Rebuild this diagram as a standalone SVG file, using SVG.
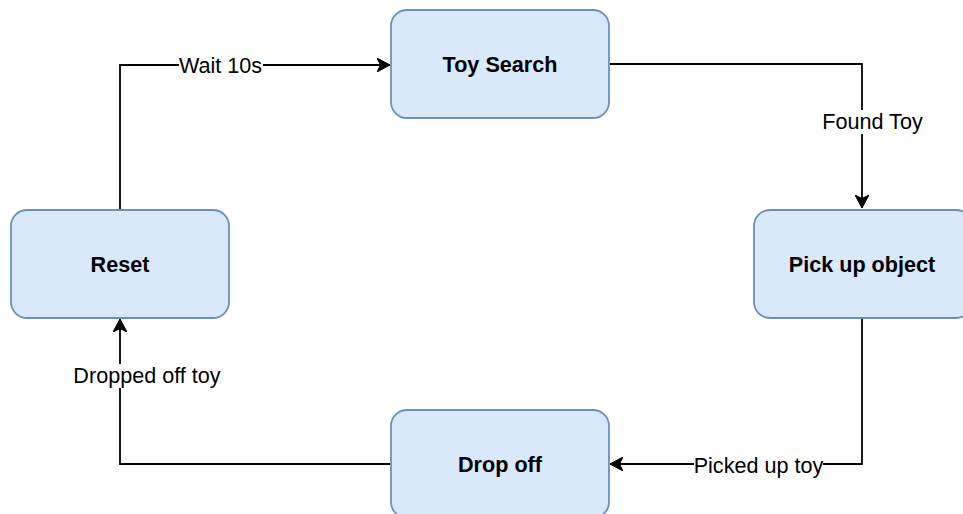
<svg xmlns="http://www.w3.org/2000/svg" width="963" height="514" viewBox="0 0 963 514">
  <style>
    .state rect { fill: #dae8fc; stroke: #6c8ebf; stroke-width: 1.8; }
    .state text { font-family: "Liberation Sans", Arial, Helvetica, sans-serif; font-size: 21.6px; font-weight: bold; fill: #000; text-anchor: middle; }
    .edge { fill: none; stroke: #000; stroke-width: 1.8; }
    .lbl { font-family: "Liberation Sans", Arial, Helvetica, sans-serif; font-size: 21.6px; fill: #000; text-anchor: middle; }
    .lblbg { fill: #fff; }
  </style>
  <defs>
    <marker id="arrow" viewBox="0 0 14 14" refX="13" refY="7" markerWidth="14" markerHeight="14" markerUnits="userSpaceOnUse" orient="auto">
      <path d="M0,0 L13,7 L0,14 L3.5,7 Z" fill="#000" stroke="#000" stroke-width="1"/>
    </marker>
  </defs>
  <rect width="963" height="514" fill="#fff"/>

  <g id="edges">
    <path class="edge" d="M120,209 V65 H390" marker-end="url(#arrow)"/>
    <path class="edge" d="M609,64 H862 V208" marker-end="url(#arrow)"/>
    <path class="edge" d="M862,318 V464 H610" marker-end="url(#arrow)"/>
    <path class="edge" d="M391,464 H120 V319" marker-end="url(#arrow)"/>
    <g id="edge-labels">
      <rect class="lblbg" x="179" y="56" width="84" height="20"/>
      <text class="lbl" x="220.5" y="73">Wait 10s</text>
      <rect class="lblbg" x="821" y="110" width="103" height="24"/>
      <text class="lbl" x="872.5" y="129">Found Toy</text>
      <rect class="lblbg" x="694" y="455" width="129" height="20"/>
      <text class="lbl" x="758.5" y="473">Picked up toy</text>
      <rect class="lblbg" x="73" y="364" width="148" height="24"/>
      <text class="lbl" x="147" y="383">Dropped off toy</text>
    </g>
  </g>

  <g id="toy-search" class="state">
    <rect x="391" y="10" width="218" height="108" rx="16"/>
    <text x="500" y="72">Toy Search</text>
  </g>
  <g id="pick-up-object" class="state">
    <rect x="754" y="210" width="218" height="108" rx="16"/>
    <text x="862" y="272">Pick up object</text>
  </g>
  <g id="drop-off" class="state">
    <rect x="391" y="410" width="218" height="108" rx="16"/>
    <text x="500" y="472">Drop off</text>
  </g>
  <g id="reset" class="state">
    <rect x="11" y="210" width="218" height="108" rx="16"/>
    <text x="120" y="272">Reset</text>
  </g>
</svg>
